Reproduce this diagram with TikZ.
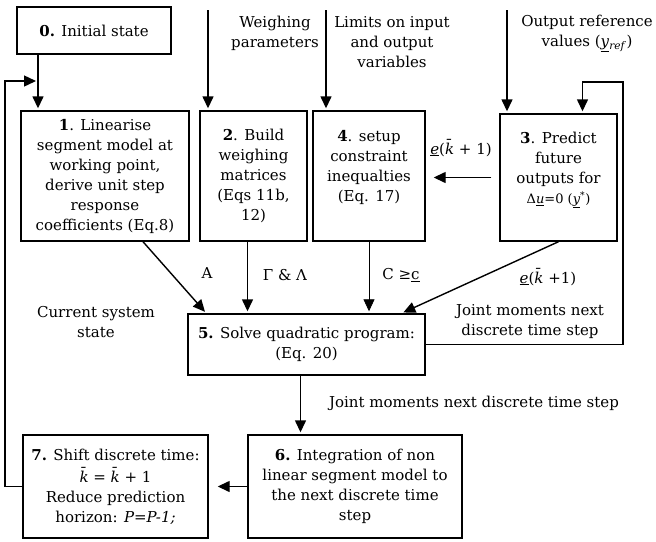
\documentclass[tikz,border=0pt]{standalone}
\usepackage{fontspec}
\setmainfont{DejaVu Serif}
\usetikzlibrary{arrows.meta}

\begin{document}
\begin{tikzpicture}
  [x=1pt,y=-1pt,font=\fontsize{15}{20}\selectfont,
   box/.style={draw,line width=1.4pt,align=center,inner sep=2pt},
   arr/.style={line width=1.4pt,-{Triangle[length=12pt,width=11pt]},shorten >=2pt},
   lbl/.style={align=center}]
  \useasboundingbox (0,0) rectangle (656,541);

  \node[box,minimum width=154pt,minimum height=47pt] (n0) at (94,30.5) {\textbf{0.} Initial state};
  \node[box,minimum width=168pt,minimum height=130pt] (n1) at (105,176)
    {\textbf{1}. Linearise\\segment model at\\working point,\\derive unit step\\response\\coefficients (Eq.8)};
  \node[box,minimum width=107pt,minimum height=130pt] (n2) at (253.5,176)
    {\textbf{2}. Build\\weighing\\matrices\\(Eqs 11b,\\12)};
  \node[box,minimum width=112pt,minimum height=130pt] (n4) at (369,176)
    {\textbf{4}. setup\\constraint\\inequalties\\(Eq. 17)\\~};
  \node[box,minimum width=117pt,minimum height=127pt] (n3) at (558.5,177.5)
    {\textbf{3}. Predict\\future\\outputs for\\{\fontsize{13}{20}\selectfont Δ\underline{\textit{u}}=0 (\underline{\textit{y}}\textsuperscript{*})}\\~};
  \node[box,minimum width=237pt,minimum height=61pt] (n5) at (306.5,344.5)
    {\textbf{5.} Solve quadratic program:\\(Eq. 20)};
  \node[box,minimum width=214pt,minimum height=103pt] (n6) at (355,486.5)
    {\textbf{6.} Integration of non\\linear segment model to\\the next discrete time\\step};
  \node[box,minimum width=185pt,minimum height=103pt] (n7) at (115.5,486.5)
    {\textbf{7.} Shift discrete time:\\[2pt]\textit{\=k} = \textit{\=k} + 1\\Reduce prediction\\horizon: \textit{P=P-1;}};

  \node[lbl] (wp) at (275,33) {Weighing\\parameters};
  \node[lbl] (lim) at (392,42) {Limits on input\\and output\\variables};
  \node[lbl] (ref) at (587,33) {Output reference\\values (\underline{\textit{y}}\textsubscript{\textit{ref}})};
  \node (e1) at (461,148) {\underline{\textit{e}}(\textit{\=k} + 1)};
  \node (la) at (207,273) {A};
  \node (lgl) at (285,275) {Γ \& Λ};
  \node (lc) at (401,275) {C ≥\underline{c}};
  \node (e2) at (548,277) {\underline{\textit{e}}(\textit{\=k} +1)};
  \node[lbl] (css) at (96,322) {Current system\\state};
  \node[lbl] (jm1) at (530,322) {Joint moments next\\discrete time step};
  \node (jm2) at (474,403) {Joint moments next discrete time step};

  \coordinate (in2) at (208,10);
  \coordinate (in4) at (326,10);
  \coordinate (in3) at (507,10);
  \foreach \from/\to in {in2/n2,in4/n4,in3/n3}
    \draw[arr] (\from) -- (\from |- \to.north);

  \coordinate (fb1) at (5,81);
  \coordinate (j1) at (38,81);
  \draw[arr] (j1 |- n0.south) -- (j1 |- n1.north);
  \draw[arr] (n7.west) -| (fb1) -- (j1);

  \draw[arr] ([xshift=38pt]n1.south) -- ([xshift=19pt]n5.north west);
  \draw[arr] ([xshift=-6pt]n2.south) -- ([xshift=-6pt]n2.south |- n5.north);
  \draw[arr,line width=0.8pt] (n4.south) -- (n4.south |- n5.north);
  \draw[arr] (n3.south) -- ([xshift=95pt]n5.north);
  \draw[arr,shorten <=8pt,shorten >=8pt] (n3.west) -- (n3.west -| n4.east);

  \coordinate (fb3) at (623,82);
  \draw[arr] (n5.east) -| (fb3) -| ([xshift=24pt]n3.north);
  \draw[arr] ([xshift=-6pt]n5.south) -- ([xshift=-6pt]n5.south |- n6.north);
  \draw[arr,shorten >=9pt] (n6.west) -- (n7.east);

\end{tikzpicture}
\end{document}
